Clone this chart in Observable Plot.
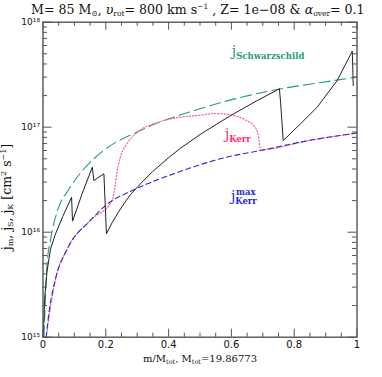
<!DOCTYPE html>
<html><head><meta charset="utf-8">
<script src="https://cdn.jsdelivr.net/npm/d3@7"></script>
<script src="https://cdn.jsdelivr.net/npm/@observablehq/plot@0.6"></script>
<style>body{margin:0;background:#fff}</style>
</head><body><div id="chart"></div>
<script>
// ---- data ----
const schwM = [0.003, 0.013, 0.024, 0.05, 0.08, 0.13, 0.19, 0.31, 0.5, 0.75, 0.88, 1.0];
const schwJ = [1.0e15, 5.0e15, 8.5e15, 1.73e16, 2.5e16, 4.0e16, 5.9e16, 9.3e16, 1.5e17, 2.3e17, 2.65e17, 3.0e17];

const kmaxM = [0.010, 0.02, 0.04, 0.077, 0.15, 0.215, 0.279, 0.438, 0.587, 0.693, 0.85, 1.0];
const kmaxJ = [1.0e15, 1.8e15, 3.6e15, 6.9e15, 1.29e16, 1.95e16, 2.45e16, 3.8e16, 5.2e16, 6.0e16, 7.5e16, 8.8e16];

const kerrM = [0.010, 0.04, 0.077, 0.15, 0.22, 0.228, 0.236, 0.25, 0.265, 0.30, 0.37, 0.438, 0.50, 0.55, 0.60, 0.65, 0.67, 0.685, 0.693, 0.85, 1.0];
const kerrJ = [1.0e15, 3.6e15, 6.9e15, 1.29e16, 2.0e16, 2.6e16, 3.8e16, 5.6e16, 6.8e16, 8.9e16, 1.12e17, 1.245e17, 1.30e17, 1.35e17, 1.31e17, 1.15e17, 1.05e17, 8.6e16, 6.1e16, 7.5e16, 8.8e16];

const blackM = [0.0005, 0.006, 0.013, 0.024, 0.040, 0.063, 0.091, 0.094, 0.125, 0.157, 0.162, 0.194, 0.202, 0.22, 0.24, 0.26, 0.279, 0.31, 0.35, 0.40, 0.438, 0.50, 0.597, 0.68, 0.753, 0.757, 0.765, 0.82, 0.873, 0.937, 0.985, 0.988];
const blackLogJ = [15.0, 15.4, 15.63, 15.84, 15.985, 16.15, 16.333, 16.105, 16.37, 16.619, 16.492, 16.556, 15.985, 16.09, 16.19, 16.28, 16.36, 16.46, 16.58, 16.71, 16.80, 16.93, 17.11, 17.25, 17.366, 17.223, 16.873, 17.032, 17.19, 17.445, 17.724, 17.397];

const xTicks = [0, 0.2, 0.4, 0.6, 0.8, 1];
const xTickLabels = ["0", "0.2", "0.4", "0.6", "0.8", "1"];
const yTicks = [1e15, 1e16, 1e17, 1e18];
const yTickLabels = ["10¹⁵", "10¹⁶", "10¹⁷", "10¹⁸"];

// ---- tables ----
const schw = schwM.map((m, i) => ({m, j: schwJ[i]}));
const kmax = kmaxM.map((m, i) => ({m, j: kmaxJ[i]}));
const kerr = kerrM.map((m, i) => ({m, j: kerrJ[i]}));
const black = blackM.map((m, i) => ({m, j: Math.pow(10, blackLogJ[i])}));
const xLab = xTicks.map((v, i) => ({v, t: xTickLabels[i]}));
const yLab = yTicks.map((v, i) => ({v, t: yTickLabels[i]}));

const xMinor = d3.range(0, 21).map(i => i * 0.05).filter(v => Math.abs(v * 5 - Math.round(v * 5)) > 1e-6);
const yMinor = [];
for (let e = 15; e < 18; e++) for (let k = 2; k <= 9; k++) yMinor.push(k * Math.pow(10, e));

const W = 382, H = 377, mL = 42.5, mR = 25.5, mT = 21.7, mB = 40.3;
const fw = W - mL - mR, fh = H - mT - mB;
const axisCol = "#555";
const fontTick = "DejaVu Sans, sans-serif";

const plot = Plot.plot({
  width: W, height: H,
  marginLeft: mL, marginRight: mR, marginTop: mT, marginBottom: mB,
  style: {background: "#fff", fontFamily: fontTick, overflow: "visible"},
  x: {domain: [0, 1], axis: null},
  y: {type: "log", domain: [1e15, 1e18], axis: null},
  marks: [
    Plot.line(schw, {x: "m", y: "j", stroke: "#1f9e7a", strokeWidth: 1.1, strokeDasharray: "11,5", curve: "monotone-x"}),
    Plot.line(kerr, {x: "m", y: "j", stroke: "#ff5c88", strokeWidth: 1.2, strokeDasharray: "1.2,2", curve: "monotone-x"}),
    Plot.line(kmax, {x: "m", y: "j", stroke: "#2a2ad0", strokeWidth: 1.1, strokeDasharray: "5,3.5", curve: "monotone-x"}),
    Plot.line(black, {x: "m", y: "j", stroke: "#222", strokeWidth: 1.0}),
    // inward ticks (IDL style)
    Plot.tickX(xTicks, {x: d => d, insetTop: fh - 8, stroke: axisCol}),
    Plot.tickX(xTicks, {x: d => d, insetBottom: fh - 8, stroke: axisCol}),
    Plot.tickX(xMinor, {x: d => d, insetTop: fh - 4, stroke: axisCol}),
    Plot.tickX(xMinor, {x: d => d, insetBottom: fh - 4, stroke: axisCol}),
    Plot.tickY(yTicks, {y: d => d, insetRight: fw - 9, stroke: axisCol}),
    Plot.tickY(yTicks, {y: d => d, insetLeft: fw - 9, stroke: axisCol}),
    Plot.tickY(yMinor, {y: d => d, insetRight: fw - 4.5, stroke: axisCol}),
    Plot.tickY(yMinor, {y: d => d, insetLeft: fw - 4.5, stroke: axisCol}),
    Plot.frame({stroke: axisCol, strokeWidth: 1.4}),
    Plot.text(xLab, {x: "v", text: "t", frameAnchor: "bottom", dy: 11, fontSize: 10, fill: "#111"}),
    Plot.text(yLab, {y: "v", text: "t", frameAnchor: "left", textAnchor: "end", dx: -3, fontSize: 9, fill: "#111"})
  ]
});
document.getElementById("chart").appendChild(plot);

const svg = d3.select(plot);
const sx = plot.scale("x"), sy = plot.scale("y");
const serif = "DejaVu Serif, serif";

// title
const t = svg.append("text").attr("x", 31).attr("y", 13.5).attr("text-anchor", "start").attr("font-family", serif).attr("font-size", 12.6).attr("fill", "#111");
t.append("tspan").text("M= 85 M");
t.append("tspan").attr("font-size", 7.5).attr("dy", 2).text("⊙");
t.append("tspan").attr("dy", -2).text(", ");
t.append("tspan").attr("font-style", "italic").text("υ");
t.append("tspan").attr("font-size", 7.5).attr("dy", 2).text("rot");
t.append("tspan").attr("dy", -2).text("= 800 km s");
t.append("tspan").attr("font-size", 7.5).attr("dy", -4.5).text("−1");
t.append("tspan").attr("dy", 4.5).text(" , Z= 1e−08 & ");
t.append("tspan").attr("font-style", "italic").text("α");
t.append("tspan").attr("font-size", 7.5).attr("dy", 2).text("over");
t.append("tspan").attr("dy", -2).text("= 0.1");

// x label
const xl = svg.append("text").attr("x", 200).attr("y", 362).attr("text-anchor", "middle").attr("font-family", serif).attr("font-size", 10).attr("fill", "#111");
xl.append("tspan").text("m/M");
xl.append("tspan").attr("font-size", 6.5).attr("dy", 2).text("tot");
xl.append("tspan").attr("dy", -2).text(", M");
xl.append("tspan").attr("font-size", 6.5).attr("dy", 2).text("tot");
xl.append("tspan").attr("dy", -2).text("=19.86773");

// y label
const yl = svg.append("text").attr("transform", "translate(11,197) rotate(-90)").attr("text-anchor", "middle").attr("font-family", serif).attr("font-size", 12.5).attr("fill", "#111");
yl.append("tspan").text("j");
yl.append("tspan").attr("font-size", 8).attr("dy", 2).text("m");
yl.append("tspan").attr("dy", -2).text(", j");
yl.append("tspan").attr("font-size", 8).attr("dy", 2).text("S");
yl.append("tspan").attr("dy", -2).text(", j");
yl.append("tspan").attr("font-size", 8).attr("dy", 2).text("K");
yl.append("tspan").attr("dy", -2).text(" [cm");
yl.append("tspan").attr("font-size", 8).attr("dy", -5).text("2");
yl.append("tspan").attr("dy", 5).text(" s");
yl.append("tspan").attr("font-size", 8).attr("dy", -5).text("−1");
yl.append("tspan").attr("dy", 5).text("]");

// annotations (positions in data units)
const a1 = svg.append("text").attr("x", sx.apply(0.603)).attr("y", sy.apply(4.7e17)).attr("text-anchor", "start").attr("font-family", serif).attr("fill", "#1f9e7a").attr("font-size", 14);
a1.append("tspan").text("j");
a1.append("tspan").attr("font-size", 8.5).attr("font-weight", "bold").attr("dy", 3).text("Schwarzschild");

const a2 = svg.append("text").attr("x", sx.apply(0.581)).attr("y", sy.apply(7.7e16)).attr("text-anchor", "start").attr("font-family", serif).attr("fill", "#ff2f66").attr("font-size", 14);
a2.append("tspan").text("j");
a2.append("tspan").attr("font-size", 8.5).attr("font-weight", "bold").attr("dy", 3).text("Kerr");

const a3 = svg.append("text").attr("x", sx.apply(0.600)).attr("y", sy.apply(1.95e16)).attr("text-anchor", "start").attr("font-family", serif).attr("fill", "#2a2ad0").attr("font-size", 14);
a3.append("tspan").text("j");
a3.append("tspan").attr("font-size", 8.5).attr("font-weight", "bold").attr("dy", 3).text("Kerr");
svg.append("text").attr("x", sx.apply(0.600) + 5).attr("y", sy.apply(1.95e16) - 6).attr("text-anchor", "start").attr("font-family", serif).attr("fill", "#2a2ad0").attr("font-size", 8.5).attr("font-weight", "bold").text("max");
</script>
</body></html>
